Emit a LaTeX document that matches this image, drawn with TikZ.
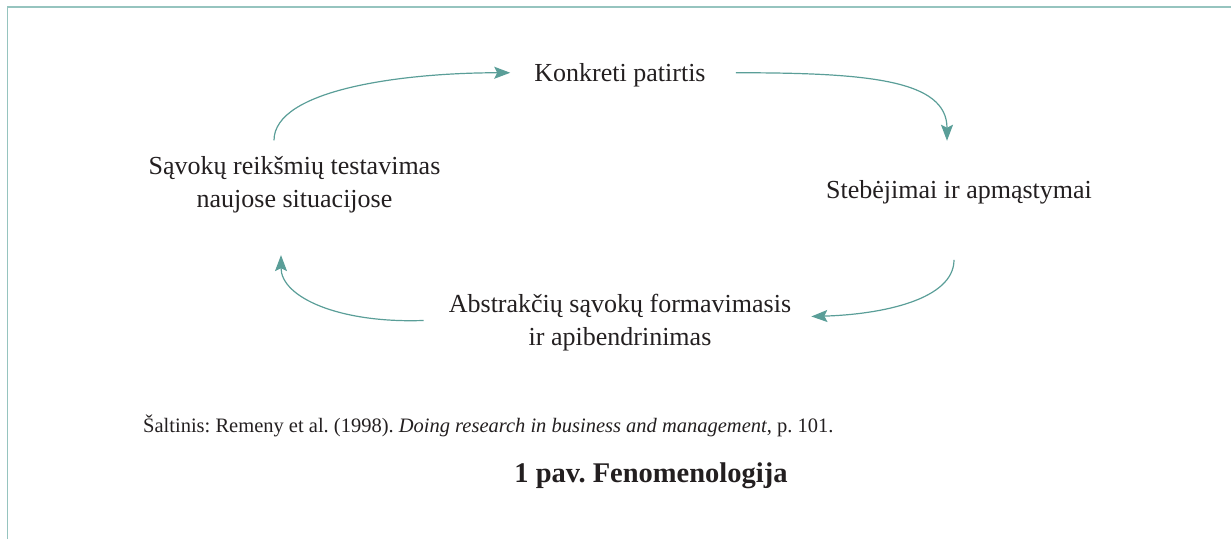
\documentclass[tikz,border=0pt]{standalone}
\usepackage{fontspec}
\setmainfont{Liberation Serif}
\usetikzlibrary{arrows.meta,calc}
\definecolor{txt}{HTML}{231F20}
\definecolor{teal}{HTML}{5A9E98}
\definecolor{framec}{HTML}{96C4BF}
\tikzset{
  lbl/.style={inner sep=0pt, align=center, text=txt, font=\fontsize{26}{32.3}\selectfont},
  conn/.style={draw=teal, line width=1.2pt, -{Stealth[length=16pt,width=12pt,inset=3pt]}},
}
\begin{document}
\frenchspacing
\begin{tikzpicture}[x=1pt,y=-1pt]
\useasboundingbox (0,0) rectangle (1231,539);
\draw[framec, line width=1.4pt] (7.5,539) -- (7.5,7) -- (1231,7);

\node[lbl, anchor=base] (kp) at (620,81) {Konkreti patirtis};
\node[lbl, anchor=base] (stb) at (959,198) {Stebėjimai ir apmąstymai};
\node[lbl, anchor=base] (abs) at (620,345) {Abstrakčių sąvokų formavimasis\\ir apibendrinimas};
\node[lbl, anchor=base] (sav) at (294.5,207) {Sąvokų reikšmių testavimas\\naujose situacijose};

\node[anchor=base west, inner sep=0pt, text=txt, font=\fontsize{20.5}{24}\selectfont] (src) at (143,432)
  {Šaltinis: Remeny et al. (1998). \textit{Doing research in business and management}, p.~101.};
\node[anchor=base, inner sep=0pt, text=txt, font=\fontsize{28.5}{34}\selectfont\bfseries] (ttl) at (651,482)
  {1 pav. Fenomenologija};

\draw[conn] ($(sav.north)+(-20.5,-16)$) .. controls +(0,-51) and +(-107,0) .. ($(kp.west)+(-24,-2)$);
\draw[conn] ($(kp.east)+(30,-2)$) .. controls +(132,0) and +(0,-61) .. ($(stb.north)+(-12,-39)$);
\draw[conn] ($(stb.south)+(-5,56)$) .. controls +(0,40) and +(70,-2) .. ($(abs.east)+(20,-6)$);
\draw[conn] ($(abs.west)+(-25,-2)$) .. controls +(-85,3) and +(0,42) .. ($(sav.south)+(-13.5,42.4)$);
\end{tikzpicture}
\end{document}
